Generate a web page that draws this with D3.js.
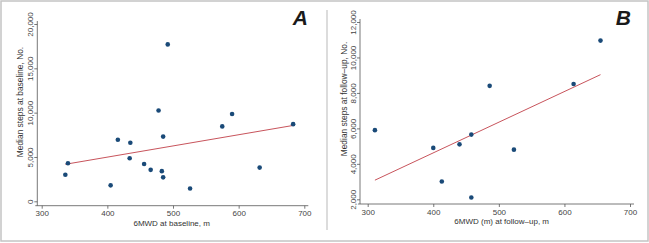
<!DOCTYPE html>
<html>
<head>
<meta charset="utf-8">
<script src="https://cdn.jsdelivr.net/npm/d3@7"></script>
<style>
  body { margin: 0; background: #fff; }
  text { font-family: "Liberation Sans", Arial, sans-serif; }
</style>
</head>
<body>
<script>
var w = 649;
var h = 243;

// Panel A: 6MWD vs median steps at baseline
var baseWalk = [336, 340, 405, 416, 435, 434, 456, 466, 478, 492, 485, 483, 485, 526, 575, 590, 632, 683];
var baseSteps = [3000, 4300, 1800, 6950, 6600, 4850, 4200, 3550, 10250, 17700, 7300, 3400, 2700, 1450, 8450, 9850, 3800, 8700];

// Panel B: 6MWD vs median steps at follow-up
var followWalk = [311, 400, 413, 440, 458, 458, 486, 523, 614, 655];
var followSteps = [5900, 4900, 3000, 5100, 5650, 2100, 8400, 4800, 8500, 10950];

var xTicks = [300, 400, 500, 600, 700];
var yTicksA = [0, 5000, 10000, 15000, 20000];
var yTicksB = [2000, 4000, 6000, 8000, 10000, 12000];

var svg = d3.select("body")
    .append("svg")
    .attr("width", w)
    .attr("height", h);

// outer frame and the divider between panels
svg.append("rect")
    .attr("x", 1).attr("y", 1)
    .attr("width", w - 2).attr("height", h - 3)
    .attr("fill", "#fff")
    .attr("stroke", "#c4c4c4")
    .attr("stroke-width", 1.5);

svg.append("line")
    .attr("x1", 327).attr("x2", 327)
    .attr("y1", 10).attr("y2", 230)
    .attr("stroke", "#d0d0d0")
    .attr("stroke-width", 1.5);

// least squares fit line
function fitLine(xs, ys) {
    var mx = d3.mean(xs), my = d3.mean(ys);
    var sxy = d3.sum(xs, function(x, i) { return (x - mx) * (ys[i] - my); });
    var sxx = d3.sum(xs, function(x) { return (x - mx) * (x - mx); });
    var b = sxy / sxx;
    var x0 = d3.min(xs), x1 = d3.max(xs);
    return [[x0, my + b * (x0 - mx)], [x1, my + b * (x1 - mx)]];
}

function panel(p) {
    var g = svg.append("g");
    var xScale = d3.scaleLinear().domain([300, 700]).range(p.xRange);
    var yScale = d3.scaleLinear().domain(p.yDomain).range(p.yRange);

    // axes
    var xAxis = g.append("g")
        .attr("transform", "translate(0," + p.xAxisY + ")")
        .call(d3.axisBottom(xScale).tickValues(xTicks).tickSize(3).tickSizeOuter(0).tickPadding(2));
    var yAxis = g.append("g")
        .attr("transform", "translate(" + p.yAxisX + ",0)")
        .call(d3.axisLeft(yScale).tickValues(p.yTicks).tickFormat(d3.format(",")).tickSize(3).tickSizeOuter(0));

    xAxis.select(".domain").remove();
    yAxis.select(".domain").remove();
    g.append("line")
        .attr("x1", p.yAxisX - 2).attr("x2", p.xRange[1] + 4)
        .attr("y1", p.xAxisY).attr("y2", p.xAxisY)
        .attr("stroke", "#555").attr("stroke-width", 0.8);
    g.append("line")
        .attr("x1", p.yAxisX).attr("x2", p.yAxisX)
        .attr("y1", p.yRange[1] - 3).attr("y2", p.xAxisY)
        .attr("stroke", "#555").attr("stroke-width", 0.8);

    g.selectAll(".tick line").attr("stroke", "#555").attr("stroke-width", 0.8);
    xAxis.selectAll("text")
        .attr("fill", "#444")
        .attr("font-size", "8px");
    yAxis.selectAll("text")
        .attr("fill", "#444")
        .attr("font-size", "8px")
        .attr("text-anchor", "middle")
        .attr("transform", "rotate(-90)")
        .attr("x", 0)
        .attr("y", -4.5)
        .attr("dy", 0);

    // fit line
    var fit = fitLine(p.xs, p.ys);
    g.append("line")
        .attr("x1", xScale(fit[0][0])).attr("y1", yScale(fit[0][1]))
        .attr("x2", xScale(fit[1][0])).attr("y2", yScale(fit[1][1]))
        .attr("stroke", "#c8545c")
        .attr("stroke-width", 1);

    // points
    g.selectAll("circle")
        .data(p.xs)
        .enter()
        .append("circle")
        .attr("cx", function(d) { return xScale(d); })
        .attr("cy", function(d, i) { return yScale(p.ys[i]); })
        .attr("r", 2.3)
        .attr("fill", "#1a4a78");

    // titles
    g.append("text")
        .attr("text-anchor", "middle")
        .attr("x", p.xTitleX)
        .attr("y", p.xTitleY)
        .attr("font-size", "8px")
        .attr("fill", "#333")
        .text(p.xTitle);

    g.append("text")
        .attr("text-anchor", "middle")
        .attr("transform", "translate(" + p.yTitleX + "," + p.yTitleY + ") rotate(-90)")
        .attr("font-size", "8.4px")
        .attr("fill", "#333")
        .text(p.yTitle);

    g.append("text")
        .attr("text-anchor", "end")
        .attr("x", p.letterX)
        .attr("y", 25)
        .attr("font-size", "21px")
        .attr("font-weight", "bold")
        .attr("font-style", "italic")
        .attr("fill", "#1a1a1a")
        .text(p.letter);
}

panel({
    xs: baseWalk, ys: baseSteps,
    xRange: [41.7, 304.3],
    yDomain: [0, 20000], yRange: [201.3, 24],
    yTicks: yTicksA,
    xAxisY: 205.7, yAxisX: 37.3,
    xTitle: "6MWD at baseline, m", xTitleX: 171.7, xTitleY: 225.5,
    yTitle: "Median steps at baseline, No.", yTitleX: 23, yTitleY: 102,
    letter: "A", letterX: 308
});

panel({
    xs: followWalk, ys: followSteps,
    xRange: [367.7, 630],
    yDomain: [2000, 12000], yRange: [199.3, 22],
    yTicks: yTicksB,
    xAxisY: 204, yAxisX: 360,
    xTitle: "6MWD (m) at follow\u2013up, m", xTitleX: 501.7, xTitleY: 224,
    yTitle: "Median steps at follow\u2013up, No.", yTitleX: 347, yTitleY: 99,
    letter: "B", letterX: 631
});
</script>
</body>
</html>
